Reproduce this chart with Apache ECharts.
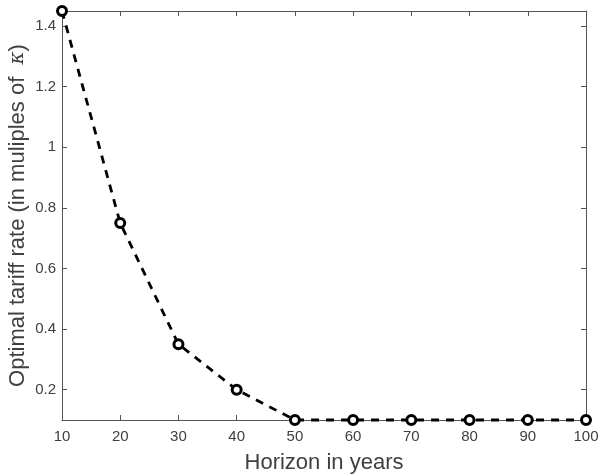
<!DOCTYPE html>
<html>
<head>
<meta charset="utf-8">
<script src="https://cdn.jsdelivr.net/npm/echarts@6/dist/echarts.min.js"></script>
<style>
  html, body { margin: 0; padding: 0; background: #fff; }
  #chart { width: 600px; height: 475px; }
</style>
</head>
<body>
<div id="chart"></div>
<script>
// Horizon (years) and the optimal tariff rate in multiples of kappa
const horizons = [10, 20, 30, 40, 50, 60, 70, 80, 90, 100];
const tariffRates = [1.45, 0.75, 0.35, 0.2, 0.1, 0.1, 0.1, 0.1, 0.1, 0.1];
const yTicks = [0.2, 0.4, 0.6, 0.8, 1, 1.2, 1.4];

const axisColor = '#555';
const labelColor = '#404040';
const font = 'Liberation Sans, Arial, Helvetica, sans-serif';

const chart = echarts.init(document.getElementById('chart'));

const boxAxis = {
  axisLine: { show: true, onZero: false, lineStyle: { color: axisColor, width: 1 } },
  axisTick: { show: true, inside: true, length: 5, lineStyle: { color: axisColor } },
  splitLine: { show: false }
};

chart.setOption({
  animation: false,
  grid: { left: 62, right: 14, top: 11, bottom: 55, containLabel: false, outerBoundsMode: 'none' },
  xAxis: [
    Object.assign({}, boxAxis, {
      type: 'value', min: 10, max: 100, interval: 10,
      axisLabel: { color: labelColor, fontSize: 15, fontFamily: font, margin: 9 },
      name: 'Horizon in years', nameLocation: 'middle', nameGap: 32, nameMoveOverlap: false,
      nameTextStyle: { color: labelColor, fontSize: 22, fontFamily: font, verticalAlign: 'top' }
    }),
    Object.assign({}, boxAxis, {
      type: 'value', min: 10, max: 100, interval: 10, position: 'top',
      axisLabel: { show: false }
    })
  ],
  yAxis: [
    Object.assign({}, boxAxis, {
      type: 'value', min: 0.1, max: 1.45,
      axisTick: { show: true, inside: true, length: 5, lineStyle: { color: axisColor }, customValues: yTicks },
      axisLabel: { color: labelColor, fontSize: 15, fontFamily: font, margin: 6, customValues: yTicks },
      name: '{t|Optimal tariff rate (in muliples of  }{k|κ}{t|)}',
      nameLocation: 'middle', nameGap: 33, nameRotate: 90, nameMoveOverlap: false,
      nameTextStyle: {
        color: labelColor,
        verticalAlign: 'bottom',
        rich: {
          t: { fontSize: 22, fontFamily: font, color: labelColor },
          k: { fontSize: 20, fontFamily: 'DejaVu Serif, serif', fontStyle: 'italic', color: labelColor }
        }
      }
    }),
    Object.assign({}, boxAxis, {
      type: 'value', min: 0.1, max: 1.45, position: 'right',
      axisTick: { show: true, inside: true, length: 5, lineStyle: { color: axisColor }, customValues: yTicks },
      axisLabel: { show: false }
    })
  ],
  series: [{
    type: 'line',
    xAxisIndex: 0,
    yAxisIndex: 0,
    data: horizons.map((h, i) => [h, tariffRates[i]]),
    lineStyle: { color: '#000', width: 2.8, type: [8, 7] },
    symbol: 'circle',
    symbolSize: 9,
    itemStyle: { color: '#fff', borderColor: '#000', borderWidth: 3 },
    clip: false,
    z: 5
  }]
});
</script>
</body>
</html>
